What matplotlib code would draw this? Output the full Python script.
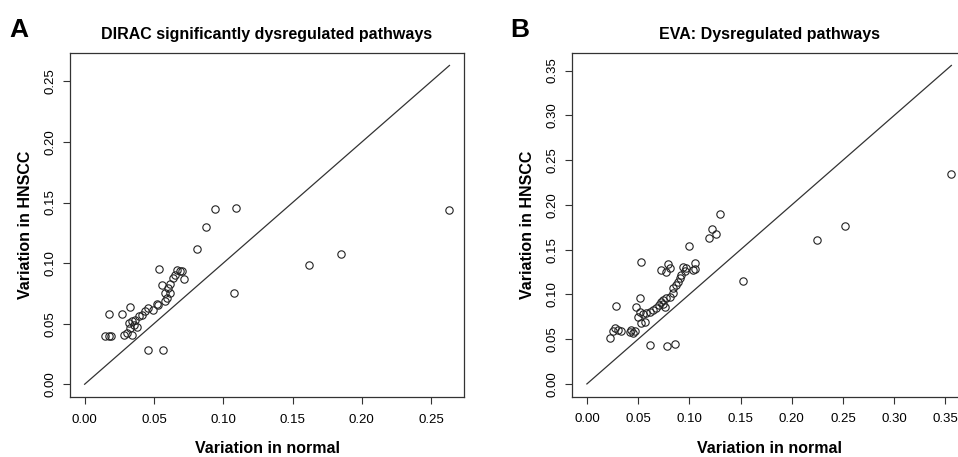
import matplotlib
matplotlib.use("Agg")
import matplotlib.pyplot as plt

plt.rcParams['font.family'] = ['Liberation Sans', 'DejaVu Sans']

# Panel A: DIRAC (normal, HNSCC)
dirac_normal = [0.0940, 0.0876, 0.0808, 0.1093, 0.2632, 0.1852, 0.1617, 0.1079,
                0.0537, 0.0665, 0.0689, 0.0653, 0.0640, 0.0705, 0.0719,
                0.0557, 0.0617, 0.0604, 0.0580, 0.0617, 0.0593, 0.0580,
                0.0521, 0.0532, 0.0496, 0.0460, 0.0437, 0.0413, 0.0389, 0.0365, 0.0341,
                0.0329, 0.0273, 0.0173,
                0.0317, 0.0353, 0.0329, 0.0377, 0.0305, 0.0281, 0.0341,
                0.0149, 0.0173, 0.0192, 0.0460, 0.0568]
dirac_hnscc = [0.1450, 0.1300, 0.1120, 0.1456, 0.1442, 0.1073, 0.0982, 0.0751,
               0.0952, 0.0946, 0.0932, 0.0905, 0.0878, 0.0932, 0.0872,
               0.0822, 0.0827, 0.0795, 0.0754, 0.0754, 0.0712, 0.0684,
               0.0663, 0.0657, 0.0616, 0.0630, 0.0602, 0.0574, 0.0560, 0.0533, 0.0519,
               0.0635, 0.0580, 0.0580,
               0.0506, 0.0492, 0.0464, 0.0470, 0.0423, 0.0409, 0.0409,
               0.0395, 0.0395, 0.0395, 0.0285, 0.0280]

# Panel B: EVA (normal, HNSCC)
eva_normal = [0.1303, 0.1218, 0.1260, 0.1191, 0.0993, 0.0531, 0.0791, 0.1059, 0.1052,
              0.0727, 0.0808, 0.0775, 0.0938, 0.0970, 0.0954, 0.1035,
              0.0922, 0.0905, 0.0889, 0.0873, 0.0840,
              0.0840, 0.0808, 0.0775, 0.0742, 0.0727,
              0.0703, 0.0671, 0.0645, 0.0612, 0.0580, 0.0742, 0.0759,
              0.0515, 0.0482, 0.0515, 0.0547, 0.0498, 0.0563, 0.0531,
              0.0287, 0.0270, 0.0303, 0.0336, 0.0254, 0.0222,
              0.0434, 0.0450, 0.0424, 0.0466,
              0.0619, 0.0785, 0.0860,
              0.1523, 0.2243, 0.2520, 0.3558]
eva_hnscc = [0.1896, 0.1730, 0.1680, 0.1630, 0.1543, 0.1359, 0.1336, 0.1347, 0.1280,
             0.1273, 0.1292, 0.1247, 0.1310, 0.1292, 0.1262, 0.1273,
             0.1217, 0.1180, 0.1143, 0.1106, 0.1069,
             0.1013, 0.0975, 0.0958, 0.0939, 0.0920,
             0.0883, 0.0846, 0.0827, 0.0808, 0.0791, 0.0891, 0.0864,
             0.0964, 0.0864, 0.0808, 0.0780, 0.0753, 0.0697, 0.0679,
             0.0872, 0.0624, 0.0605, 0.0586, 0.0586, 0.0512,
             0.0605, 0.0568, 0.0575, 0.0586,
             0.0438, 0.0419, 0.0449,
             0.1154, 0.1607, 0.1763, 0.2350]

a_ticks = [0.00, 0.05, 0.10, 0.15, 0.20, 0.25]
b_ticks = [0.00, 0.05, 0.10, 0.15, 0.20, 0.25, 0.30, 0.35]

fig = plt.figure(figsize=(9.58, 4.57), dpi=100)


def panel(rect, xs, ys, ticks, title, letter, letter_x):
    ax = fig.add_axes(rect)
    hi = max(xs)
    pad = 0.04 * hi
    ax.plot([0, hi], [0, hi], color='#333333', lw=0.9)
    ax.plot(xs, ys, 'o', mfc='none', mec='#222222', ms=5.3, mew=0.8)
    ax.set_xlim(-pad, hi + pad)
    ax.set_ylim(-pad, hi + pad)
    ax.set_xticks(ticks)
    ax.set_yticks(ticks)
    ax.set_xticklabels(['%.2f' % t for t in ticks])
    ax.set_yticklabels(['%.2f' % t for t in ticks])
    ax.tick_params(length=5, width=0.8, color='#333333', labelsize=9.5, pad=7)
    ax.tick_params(axis='y', labelrotation=90, pad=5)
    for lbl in ax.get_yticklabels():
        lbl.set_va('center')
    for s in ax.spines.values():
        s.set_linewidth(0.9)
        s.set_color('#333333')
    ax.set_xlabel('Variation in normal', fontsize=11.5, fontweight='bold', labelpad=11)
    ax.set_ylabel('Variation in HNSCC', fontsize=11.5, fontweight='bold', labelpad=8)
    ax.set_title(title, fontsize=11.5, fontweight='bold', pad=10)
    fig.text(letter_x, 0.935, letter, fontsize=19, fontweight='bold', va='center')
    return ax


panel([0.0731, 0.1313, 0.4113, 0.7534], dirac_normal, dirac_hnscc, a_ticks,
      'DIRAC significantly dysregulated pathways', 'A', 0.010)
axb = panel([0.5974, 0.1320, 0.4109, 0.7527], eva_normal, eva_hnscc, b_ticks,
            'EVA: Dysregulated pathways', 'B', 0.533)
# right edge of panel B lies outside the cropped figure
axb.spines['right'].set_visible(False)

fig.savefig('out.png', dpi=100)
